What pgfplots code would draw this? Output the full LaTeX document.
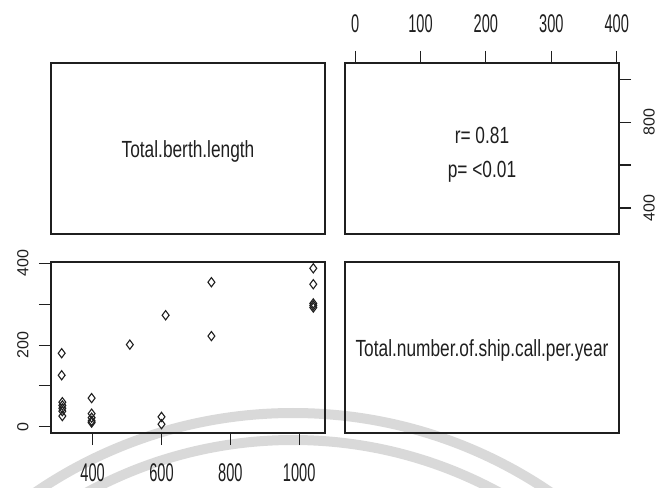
\documentclass[border=0pt]{standalone}
\usepackage{fontspec}
\setmainfont{Liberation Sans}
\usepackage{pgfplots}
\pgfplotsset{compat=1.18}
\definecolor{ink}{gray}{0.12}
\definecolor{wm}{gray}{0.85}
\tikzset{
  hlab/.style={font=\fontsize{14.6}{14.6}\selectfont, yscale=1.75},
  vlab/.style={font=\fontsize{16}{16}\selectfont, rotate=90},
  ptxt/.style={font=\fontsize{17.3}{17.3}\selectfont, text=ink, yscale=1.35, anchor=base},
}
\pgfplotsset{
  panel/.style={
    scale only axis, width=274pt, height=171pt, anchor=south west,
    axis line style={ink, line width=1.2pt},
    every tick/.style={ink, line width=1.1pt},
    tick align=outside, major tick length=12pt,
    /pgf/number format/assume math mode=true,
    /pgf/number format/1000 sep={},
    tick label style={ink},
  },
}
\begin{document}
\begin{tikzpicture}[x=1pt,y=1pt]
\useasboundingbox (0,0) rectangle (657,488);
\begin{scope}
\clip (0,0) rectangle (657,488);
\draw[line width=10pt, wm] (293,-382.5) circle[radius=457.5pt];
\draw[line width=10pt, wm] (293,-382.5) circle[radius=430.5pt];
\end{scope}

% top-left: variable name
\begin{axis}[panel, at={(51pt,254pt)}, xmin=0, xmax=1, ymin=0, ymax=1,
  xtick=\empty, ytick=\empty]
\node[ptxt] at (rel axis cs:0.5,0.449) {Total.berth.length};
\end{axis}

% top-right: correlation
\begin{axis}[panel, at={(345pt,254pt)},
  xmin=-15.5, xmax=403.5, ymin=279, ymax=1075,
  xtick={0,100,200,300,400}, ytick={400,600,800,1000},
  yticklabels={400,,800,},
  xtick pos=right, xticklabel pos=right,
  ytick pos=right, yticklabel pos=right,
  xticklabel style={yshift=12pt, hlab, anchor=south},
  yticklabel style={xshift=9pt, vlab, anchor=north}]
\node[ptxt] at (rel axis cs:0.5,0.529) {r= 0.81};
\node[ptxt] at (rel axis cs:0.5,0.333) {p= <0.01};
\end{axis}

% bottom-left: scatter
\begin{axis}[panel, at={(51pt,55pt)},
  xmin=279, xmax=1075, ymin=-15.5, ymax=403.5,
  xtick={400,600,800,1000}, ytick={0,100,200,300,400},
  yticklabels={0,,200,,400},
  xtick pos=left, ytick pos=left,
  xticklabel style={yshift=-12pt, hlab, anchor=north},
  yticklabel style={xshift=-7pt, vlab, anchor=south}]
\addplot[only marks, mark=diamond, mark size=4.6pt,
  mark options={draw=ink, line width=1.1pt, fill=none}] coordinates {
(310,180) (310,126) (312,60) (312,52) (312,45) (312,38) (312,26)
(397,70) (397,32) (397,22) (397,14) (397,10)
(508,201) (600,24) (600,6) (612,273)
(745,354) (745,222)
(1041,388) (1041,349) (1041,302) (1041,297) (1041,292)
};
\end{axis}

% bottom-right: variable name
\begin{axis}[panel, at={(345pt,55pt)}, xmin=0, xmax=1, ymin=0, ymax=1,
  xtick=\empty, ytick=\empty]
\node[ptxt] at (rel axis cs:0.5,0.446) {Total.number.of.ship.call.per.year};
\end{axis}
\end{tikzpicture}
\end{document}
